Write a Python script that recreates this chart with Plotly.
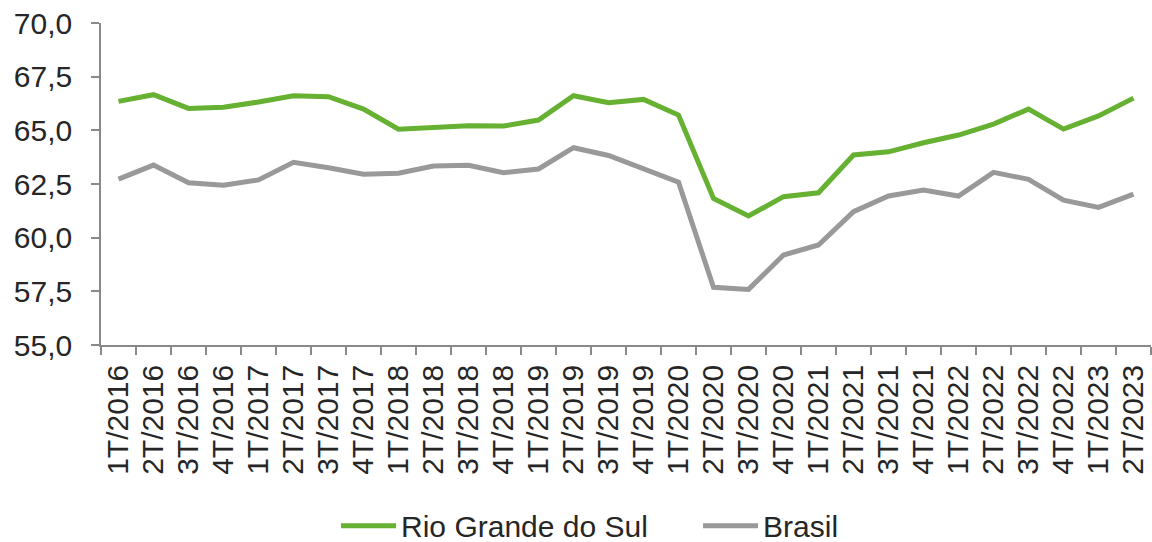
import plotly.graph_objects as go

# Quarterly categories
quarters = [
    "1T/2016", "2T/2016", "3T/2016", "4T/2016",
    "1T/2017", "2T/2017", "3T/2017", "4T/2017",
    "1T/2018", "2T/2018", "3T/2018", "4T/2018",
    "1T/2019", "2T/2019", "3T/2019", "4T/2019",
    "1T/2020", "2T/2020", "3T/2020", "4T/2020",
    "1T/2021", "2T/2021", "3T/2021", "4T/2021",
    "1T/2022", "2T/2022", "3T/2022", "4T/2022",
    "1T/2023", "2T/2023",
]

rio_grande_do_sul = [
    66.35, 66.66, 66.02, 66.08,
    66.32, 66.61, 66.57, 65.99,
    65.05, 65.15, 65.21, 65.20,
    65.48, 66.61, 66.29, 66.44,
    65.71, 61.83, 61.01, 61.91,
    62.09, 63.85, 64.00, 64.42,
    64.78, 65.29, 65.99, 65.06,
    65.67, 66.50,
]

brasil = [
    62.73, 63.38, 62.56, 62.44,
    62.69, 63.51, 63.26, 62.96,
    63.00, 63.34, 63.37, 63.03,
    63.20, 64.19, 63.83, 63.23,
    62.58, 57.69, 57.59, 59.19,
    59.66, 61.21, 61.94, 62.22,
    61.94, 63.04, 62.72, 61.75,
    61.41, 62.03,
]

y_ticks = [55.0, 57.5, 60.0, 62.5, 65.0, 67.5, 70.0]

GREEN = "#66B032"
GREY = "#999999"
AXIS = "#898989"
TEXT = "#262626"
FONT = "Liberation Sans, Arial, sans-serif"

fig = go.Figure()
fig.add_trace(go.Scatter(
    x=quarters, y=rio_grande_do_sul, mode="lines", name="Rio Grande do Sul",
    line=dict(color=GREEN, width=5),
))
fig.add_trace(go.Scatter(
    x=quarters, y=brasil, mode="lines", name="Brasil",
    line=dict(color=GREY, width=5),
))

fig.update_layout(
    width=1152, height=542,
    margin=dict(l=101, r=1, t=23, b=197),
    paper_bgcolor="white", plot_bgcolor="white",
    separators=",.",
    font=dict(family=FONT, size=30, color=TEXT),
    showlegend=True,
    legend=dict(
        orientation="h", x=0.2917, xanchor="left", xref="container",
        y=0.03, yanchor="middle", yref="container",
        font=dict(family=FONT, size=30, color=TEXT),
        itemwidth=55, entrywidth=292, entrywidthmode="pixels",
        tracegroupgap=0, bgcolor="rgba(0,0,0,0)",
    ),
)

fig.update_xaxes(
    type="category", range=[-0.5, len(quarters) - 0.5],
    tickmode="array", tickvals=quarters, ticktext=quarters,
    showline=True, linecolor=AXIS, linewidth=1.5,
    showgrid=False, zeroline=False,
    ticks="outside", tickson="boundaries", ticklen=8, tickwidth=1.5, tickcolor=AXIS,
    tickangle=-90, tickfont=dict(family=FONT, size=30, color=TEXT),
    ticklabelstandoff=6,
)

fig.update_yaxes(
    range=[55, 70],
    tickvals=y_ticks, tickformat=".1f",
    showline=True, linecolor=AXIS, linewidth=1.5,
    showgrid=False, zeroline=False,
    ticks="outside", ticklen=8, tickwidth=1.5, tickcolor=AXIS,
    tickfont=dict(family=FONT, size=30, color=TEXT),
    ticklabelstandoff=13,
)

fig.write_html("out.html")
